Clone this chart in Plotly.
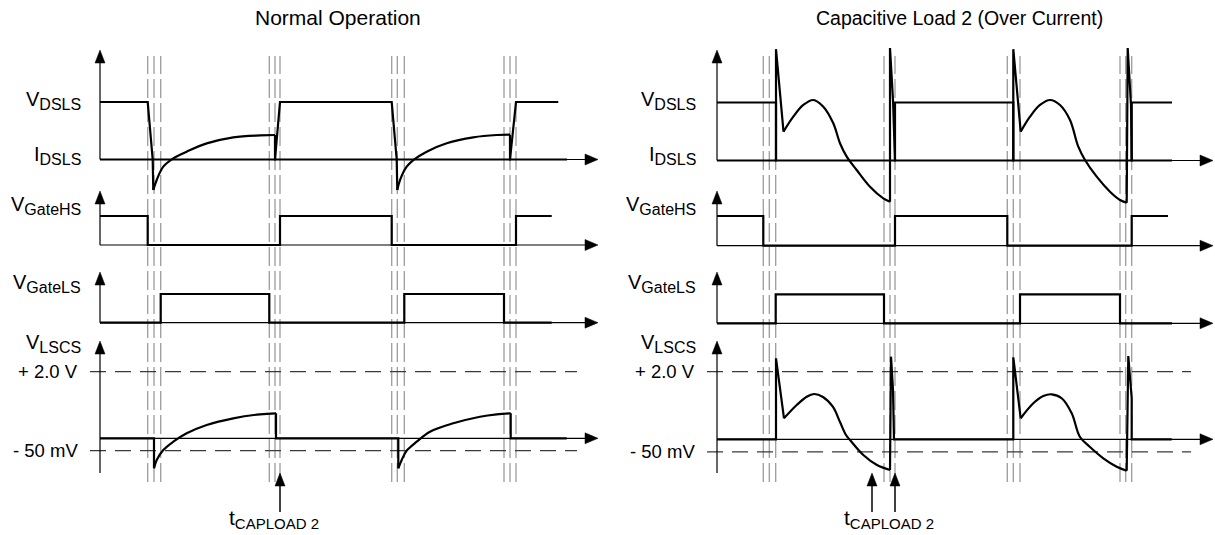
import plotly.graph_objects as go

W, H = 1215, 535
FONT = "Liberation Sans, Arial, Helvetica, sans-serif"

# ---------------------------------------------------------------- data
TITLE_L = "Normal Operation"
TITLE_R = "Capacitive Load 2 (Over Current)"

LABEL_VDS = ("V", "DSLS")
LABEL_IDS = ("I", "DSLS")
LABEL_GHS = ("V", "GateHS")
LABEL_GLS = ("V", "GateLS")
LABEL_CS = ("V", "LSCS")
LEVEL_NAMES = ["+ 2.0 V", "- 50 mV"]
LEVEL_VALUES = [1.0, -0.185]          # in V_LSCS display units (+2.0 V == 1)
T_LABEL = ("t", "CAPLOAD 2")

# ---- Left panel: Normal Operation (time measured from the vertical axis)
L_MARKS = [47.7, 54, 60.7, 169.3, 175, 180, 291.7, 297.3, 304.3, 404, 410, 416]
L_VDS_T = [0, 47.7, 52.7, 175, 180, 291.7, 296.7, 410, 416, 458.3]
L_VDS_V = [1, 1, 0, 0, 1, 1, 0, 0, 1, 1]
L_IDS_T = [0, 52.7, 53.3, None, 175, 175, 296.7, 297.3, None, 410, 410, 467]
L_IDS_V = [0, 0, -0.53, None, 0.426, 0, 0, -0.53, None, 0.431, 0, 0]
L_IDS_C1_T = [53.3, 56.7, 63.3, 73.3, 86.7, 106.7, 133.3, 160, 175]
L_IDS_C1_V = [-0.53, -0.357, -0.125, 0.02, 0.136, 0.28, 0.386, 0.42, 0.426]
L_IDS_C2_T = [297.3, 300, 306.7, 313.3, 326.7, 346.7, 373.3, 396.7, 410]
L_IDS_C2_V = [-0.53, -0.357, -0.125, -0.009, 0.136, 0.282, 0.386, 0.426, 0.431]
L_GHS_T = [0, 47.7, 47.7, 180, 180, 291.7, 291.7, 416, 416, 451.7]
L_GHS_V = [1, 1, 0, 0, 1, 1, 0, 0, 1, 1]
L_GLS_T = [0, 60.7, 60.7, 169.3, 169.3, 304.3, 304.3, 404, 404, 451.7]
L_GLS_V = [0, 0, 1, 1, 0, 0, 1, 1, 0, 0]
L_CS_T = [0, 54, 54, None, 176, 176, 298.3, 298.3, None, 410.7, 410.7, 466.7]
L_CS_V = [0, 0, -0.45, None, 0.375, 0, 0, -0.45, None, 0.375, 0, 0]
L_CS_C1_T = [54, 56.7, 63.3, 73.3, 86.7, 106.7, 133.3, 160, 176]
L_CS_C1_V = [-0.45, -0.326, -0.176, -0.051, 0.075, 0.2, 0.3, 0.36, 0.375]
L_CS_C2_T = [298.3, 301.7, 306.7, 316.7, 330, 353.3, 380, 396.7, 410.7]
L_CS_C2_V = [-0.45, -0.326, -0.186, -0.051, 0.099, 0.225, 0.324, 0.36, 0.375]
L_TCAP = [180]

# ---- Right panel: Capacitive Load 2 (Over Current)
R_MARKS = [46.3, 52.3, 58.7, 167, 173, 178, 290.3, 296.3, 303, 403, 408.7, 414.7]
R_VDS_T = [0, 59, 59, 178, 178, 296.3, 296.3, 414.7, 414.7, 455]
R_VDS_V = [1, 1, 0, 0, 1, 1, 0, 0, 1, 1]
R_IDS_T = [0, 59, 59, 66.5, None, 173, 173, 176, 178, 296.3, 296.3, 303.7, None,
           409.7, 410.7, 414, 414.7, 455]
R_IDS_V = [0, 0, 1.92, 0.497, None, -0.71, 1.94, 1.043, 0, 0, 1.92, 0.497, None,
           -0.728, 1.94, 0.957, 0, 0]
R_IDS_C1_T = [66.5, 76.3, 86.3, 96.3, 106.3, 116.3, 123, 129.7, 139.7, 153, 166.3, 173]
R_IDS_C1_V = [0.497, 0.755, 0.957, 1.043, 0.928, 0.641, 0.297, 0.066, -0.164, -0.452, -0.652, -0.71]
R_IDS_C2_T = [303.7, 313, 323, 333, 343, 353, 361.3, 368, 379.7, 393, 403, 409.7]
R_IDS_C2_V = [0.497, 0.755, 0.957, 1.043, 0.957, 0.698, 0.238, 0.009, -0.279, -0.538, -0.681, -0.728]
R_GHS_T = [0, 46.3, 46.3, 178, 178, 290.3, 290.3, 414.7, 414.7, 451]
R_GHS_V = [1, 1, 0, 0, 1, 1, 0, 0, 1, 1]
R_GLS_T = [0, 58.7, 58.7, 167, 167, 303, 303, 403, 403, 455]
R_GLS_V = [0, 0, 1, 1, 0, 0, 1, 1, 0, 0]
R_CS_T = [0, 59, 59, 67, None, 173, 174, 176, 177, 296.3, 296.3, 303.7, None,
          409.7, 411.3, 414.7, 414.7, 454.7]
R_CS_V = [0, 0, 1.198, 0.311, None, -0.454, 1.222, 0.729, 0, 0, 1.212, 0.311, None,
          -0.464, 1.232, 0.607, 0, 0]
R_CS_C1_T = [67, 79.7, 89.7, 97, 106, 116, 123, 129, 133, 146.3, 160, 173]
R_CS_C1_V = [0.311, 0.507, 0.630, 0.670, 0.626, 0.478, 0.256, 0.063, -0.010, -0.232, -0.380, -0.454]
R_CS_C2_T = [303.7, 316.3, 326.3, 334.7, 344.7, 354.7, 363, 373, 386.3, 399.7, 409.7]
R_CS_C2_V = [0.311, 0.533, 0.641, 0.666, 0.607, 0.385, 0.034, -0.114, -0.281, -0.405, -0.464]
R_TCAP = [155, 178]

# ---------------------------------------------------------------- geometry / style
LANES_L = {"A": dict(b=159.5, s=57.5), "B": dict(b=245.0, s=29.0),
           "C": dict(b=322.7, s=28.7), "D": dict(b=438.3, s=66.6)}
LANES_R = {"A": dict(b=160.5, s=58.0), "B": dict(b=245.7, s=29.7),
           "C": dict(b=323.3, s=29.0), "D": dict(b=439.3, s=67.6)}

PANELS = [
    dict(xa="x", ya={"A": "y", "B": "y2", "C": "y3", "D": "y4"}, lanes=LANES_L,
         x0=100, title=TITLE_L, title_t=238, title_size=21, lab_t=-17, axis_end=498,
         level_end=477, tlab_t=173.5, marks=L_MARKS, tcap=L_TCAP,
         vds=(L_VDS_T, L_VDS_V), ids=(L_IDS_T, L_IDS_V),
         ids_c=[(L_IDS_C1_T, L_IDS_C1_V), (L_IDS_C2_T, L_IDS_C2_V)],
         ghs=(L_GHS_T, L_GHS_V), gls=(L_GLS_T, L_GLS_V), cs=(L_CS_T, L_CS_V),
         cs_c=[(L_CS_C1_T, L_CS_C1_V), (L_CS_C2_T, L_CS_C2_V)]),
    dict(xa="x2", ya={"A": "y5", "B": "y6", "C": "y7", "D": "y8"}, lanes=LANES_R,
         x0=717, title=TITLE_R, title_t=242, title_size=19.5, lab_t=-19, axis_end=496,
         level_end=474, tlab_t=172, marks=R_MARKS, tcap=R_TCAP,
         vds=(R_VDS_T, R_VDS_V), ids=(R_IDS_T, R_IDS_V),
         ids_c=[(R_IDS_C1_T, R_IDS_C1_V), (R_IDS_C2_T, R_IDS_C2_V)],
         ghs=(R_GHS_T, R_GHS_V), gls=(R_GLS_T, R_GLS_V), cs=(R_CS_T, R_CS_V),
         cs_c=[(R_CS_C1_T, R_CS_C1_V), (R_CS_C2_T, R_CS_C2_V)]),
]

WAVE_W = 2.2
AXIS_W = 1.2
BLACK = "#000000"
GRAY = "#9c9c9c"

fig = go.Figure()
shapes = []
annotations = []


def val(lane, py):
    return (lane["b"] - py) / lane["s"]


def sub_text(pair, sub_size):
    main, sub = pair
    return f"{main}<sub><span style='font-size:{sub_size}px'>{sub}</span></sub>"


def wave(t, v, xa, ya, shape="linear"):
    fig.add_trace(go.Scatter(x=t, y=v, xaxis=xa, yaxis=ya, mode="lines",
                             line=dict(color=BLACK, width=WAVE_W, shape=shape,
                                       smoothing=1.0 if shape == "spline" else None),
                             hoverinfo="skip", connectgaps=False))


def tri(xs, ys, xa, ya):
    fig.add_trace(go.Scatter(x=xs, y=ys, xaxis=xa, yaxis=ya, mode="lines",
                             fill="toself", fillcolor=BLACK,
                             line=dict(color=BLACK, width=0.5), hoverinfo="skip"))


def seg(xa, ya, t0, v0, t1, v1, color=BLACK, width=AXIS_W, dash=None, layer="above"):
    shapes.append(dict(type="line", xref=xa, yref=ya, x0=t0, y0=v0, x1=t1, y1=v1,
                       line=dict(color=color, width=width, dash=dash), layer=layer))


def label(xa, ya, t, v, text, size, xanchor="right", yanchor="middle"):
    annotations.append(dict(xref=xa, yref=ya, x=t, y=v, text=text, showarrow=False,
                            xanchor=xanchor, yanchor=yanchor,
                            font=dict(family=FONT, size=size, color=BLACK)))


AX_TIPS = {"A": 50, "B": 191, "C": 272, "D": 341}
AX_BOTTOM = {"A": None, "B": None, "C": None, "D": 473}
HEAD_L, HEAD_W = 13, 10

for p in PANELS:
    xa, lanes = p["xa"], p["lanes"]
    # gray dashed timing markers spanning all lanes
    for t in p["marks"]:
        shapes.append(dict(type="line", xref=xa, yref="paper", x0=t, x1=t,
                           y0=1 - 482 / H, y1=1 - 56 / H,
                           line=dict(color=GRAY, width=1.3, dash="19px,5px"), layer="below"))
    # axes with arrows
    for key in "ABCD":
        ya, lane = p["ya"][key], lanes[key]
        bottom = 0 if AX_BOTTOM[key] is None else val(lane, AX_BOTTOM[key])
        tip_v = val(lane, AX_TIPS[key])
        base_v = val(lane, AX_TIPS[key] + HEAD_L)
        seg(xa, ya, 0, bottom, 0, base_v)
        tri([-HEAD_W / 2, HEAD_W / 2, 0, -HEAD_W / 2], [base_v, base_v, tip_v, base_v], xa, ya)
        end = p["axis_end"]
        seg(xa, ya, 0, 0, end - HEAD_L, 0)
        hw = (HEAD_W + 1) / 2 / lane["s"]
        tri([end - HEAD_L, end - HEAD_L, end, end - HEAD_L], [hw, -hw, 0, hw], xa, ya)
    # threshold lines on V_LSCS lane
    yD, laneD = p["ya"]["D"], lanes["D"]
    for name, lv in zip(LEVEL_NAMES, LEVEL_VALUES):
        seg(xa, yD, -10, lv, p["level_end"], lv, color="#3a3a3a", width=1.3,
            dash="16px,9px", layer="below")
        label(xa, yD, -20, lv, name, 18.5)
    # waveforms
    wave(*p["vds"], xa, p["ya"]["A"])
    wave(*p["ids"], xa, p["ya"]["A"])
    for c in p["ids_c"]:
        wave(*c, xa, p["ya"]["A"], shape="spline")
    wave(*p["ghs"], xa, p["ya"]["B"])
    wave(*p["gls"], xa, p["ya"]["C"])
    wave(*p["cs"], xa, yD)
    for c in p["cs_c"]:
        wave(*c, xa, yD, shape="spline")
    # lane labels
    lt = p["lab_t"]
    label(xa, p["ya"]["A"], lt, val(lanes["A"], 100), sub_text(LABEL_VDS, 16), 20)
    label(xa, p["ya"]["A"], lt, val(lanes["A"], 155), sub_text(LABEL_IDS, 16), 20)
    label(xa, p["ya"]["B"], lt, val(lanes["B"], 205), sub_text(LABEL_GHS, 16), 20)
    label(xa, p["ya"]["C"], lt, val(lanes["C"], 283), sub_text(LABEL_GLS, 16), 20)
    label(xa, yD, lt, val(laneD, 343), sub_text(LABEL_CS, 16), 20)
    # t_CAPLOAD arrows and label
    for t in p["tcap"]:
        seg(xa, yD, t, val(laneD, 512), t, val(laneD, 473 + HEAD_L), width=1.5)
        tri([t - HEAD_W / 2, t + HEAD_W / 2, t, t - HEAD_W / 2],
            [val(laneD, 473 + HEAD_L)] * 2 + [val(laneD, 473), val(laneD, 473 + HEAD_L)], xa, yD)
    label(xa, yD, p["tlab_t"], val(laneD, 519), sub_text(T_LABEL, 15), 21, xanchor="center")
    # title
    annotations.append(dict(xref=xa, yref="paper", x=p["title_t"], y=1 - 18 / H,
                            text=p["title"], showarrow=False, xanchor="center",
                            yanchor="middle",
                            font=dict(family=FONT, size=p["title_size"], color=BLACK)))


def xaxis(dom, x0):
    return dict(domain=dom, range=[dom[0] * W - x0, dom[1] * W - x0],
                visible=False, fixedrange=True)


def yaxis(lane, **kw):
    b, s = lane["b"], lane["s"]
    return dict(domain=[0, 1], range=[-(H - b) / s, b / s], visible=False,
                fixedrange=True, **kw)


fig.update_layout(
    width=W, height=H, margin=dict(l=0, r=0, t=0, b=0),
    paper_bgcolor="white", plot_bgcolor="white", showlegend=False,
    xaxis=xaxis([0, 0.5], 100), xaxis2=xaxis([0.5, 1], 717),
    yaxis=yaxis(LANES_L["A"], anchor="x"),
    yaxis2=yaxis(LANES_L["B"], anchor="x", overlaying="y"),
    yaxis3=yaxis(LANES_L["C"], anchor="x", overlaying="y"),
    yaxis4=yaxis(LANES_L["D"], anchor="x", overlaying="y"),
    yaxis5=yaxis(LANES_R["A"], anchor="x2"),
    yaxis6=yaxis(LANES_R["B"], anchor="x2", overlaying="y5"),
    yaxis7=yaxis(LANES_R["C"], anchor="x2", overlaying="y5"),
    yaxis8=yaxis(LANES_R["D"], anchor="x2", overlaying="y5"),
    shapes=shapes, annotations=annotations,
)

fig.write_html("out.html", config={"displayModeBar": False},
               post_script="document.body.style.margin='0px';document.body.style.overflow='hidden';")
